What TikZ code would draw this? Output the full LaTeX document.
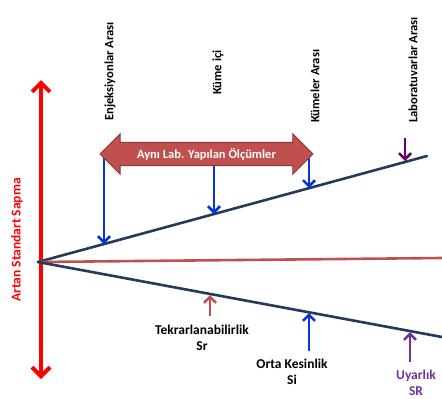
\documentclass[tikz,border=0pt]{standalone}
\usepackage{fontspec}
\setmainfont{Carlito}
\usetikzlibrary{shapes.arrows, arrows.meta, positioning}
\definecolor{axisred}{RGB}{255, 0, 0}
\definecolor{navyline}{RGB}{35, 58, 92}
\definecolor{softred}{RGB}{192, 80, 77}
\definecolor{darkred}{RGB}{140, 56, 54}
\definecolor{markblue}{RGB}{10, 50, 215}
\definecolor{darkpurple}{RGB}{102, 0, 102}
\definecolor{markpurple}{RGB}{112, 48, 160}

\begin{document}
\begin{tikzpicture}[x=1pt, y=-1pt, font=\fontsize{12.6}{15}\selectfont\bfseries,
  mainline/.style={line width=2.6pt, line cap=round},
  marker/.style={line width=2.6pt, -{Straight Barb[length=6pt, width=12pt]}},
  toplabel/.style={rotate=90, anchor=west, inner sep=0pt},
  botlabel/.style={align=center, inner sep=0pt, font=\fontsize{13.5}{16.5}\selectfont\bfseries}]

  \useasboundingbox (0,0) rectangle (442,399);

  % axis and lines
  \coordinate (axtop) at (41,80);
  \coordinate (axbot) at (41,379);
  \coordinate (origin) at (38,262);
  \coordinate (upend) at (427,156);
  \coordinate (midend) at (442,258);
  \coordinate (lowend) at (442,337);

  \draw [axisred, line width=4pt, {Straight Barb[length=9pt, width=18pt]}-{Straight Barb[length=9pt, width=18pt]}] (axbot) -- (axtop);
  \node [rotate=90, text=axisred, font=\fontsize{13.5}{15}\selectfont\bfseries] (sapma) at (17,240) {Artan Standart Sapma};

  \draw [mainline, draw=navyline] (origin) -- (upend);
  \draw [mainline, draw=softred] (origin) -- (midend);
  \draw [mainline, draw=navyline] (origin) -- (lowend);

  % upper markers
  \coordinate (enjtop) at (104,152);
  \coordinate (enjend) at (104,244);
  \coordinate (icitop) at (214,158);
  \coordinate (iciend) at (214,214);
  \coordinate (kumtop) at (309,156);
  \coordinate (kumend) at (309,188);
  \coordinate (labtop) at (405,138);
  \coordinate (labend) at (405,161);

  \draw [marker, markblue] (enjtop) -- (enjend);
  \draw [marker, markblue] (icitop) -- (iciend);
  \draw [marker, markblue] (kumtop) -- (kumend);
  \draw [marker, darkpurple] (labtop) -- (labend);

  \node [double arrow, draw=darkred, fill=softred, line width=1pt, text=white,
    font=\fontsize{12.5}{14}\selectfont\bfseries, minimum height=213pt,
    double arrow head extend=8.5pt, inner ysep=5pt] (samelab) at (206.5,154) {Aynı Lab. Yapılan Ölçümler};

  \node [toplabel] (enjlabel) at (110,121) {Enjeksiyonlar Arası};
  \node [toplabel] (icilabel) at (218,95) {Küme içi};
  \node [toplabel] (kumlabel) at (315,123) {Kümeler Arası};
  \node [toplabel] (lablabel) at (413,123) {Laboratuvarlar Arası};

  % lower markers
  \coordinate (tekbot) at (210,316);
  \coordinate (tekend) at (210,295);
  \coordinate (ortbot) at (309,351);
  \coordinate (ortend) at (309,313);
  \coordinate (uyabot) at (410,362);
  \coordinate (uyaend) at (410,332);

  \draw [marker, softred] (tekbot) -- (tekend);
  \draw [marker, markblue] (ortbot) -- (ortend);
  \draw [marker, markpurple] (uyabot) -- (uyaend);

  \node [botlabel] (teklabel) at (202,338) {Tekrarlanabilirlik\\Sr};
  \node [botlabel] (ortlabel) at (292,372) {Orta Kesinlik\\Si};
  \node [botlabel, text=markpurple] (uyalabel) at (416,383) {Uyarlık\\SR};

\end{tikzpicture}
\end{document}
